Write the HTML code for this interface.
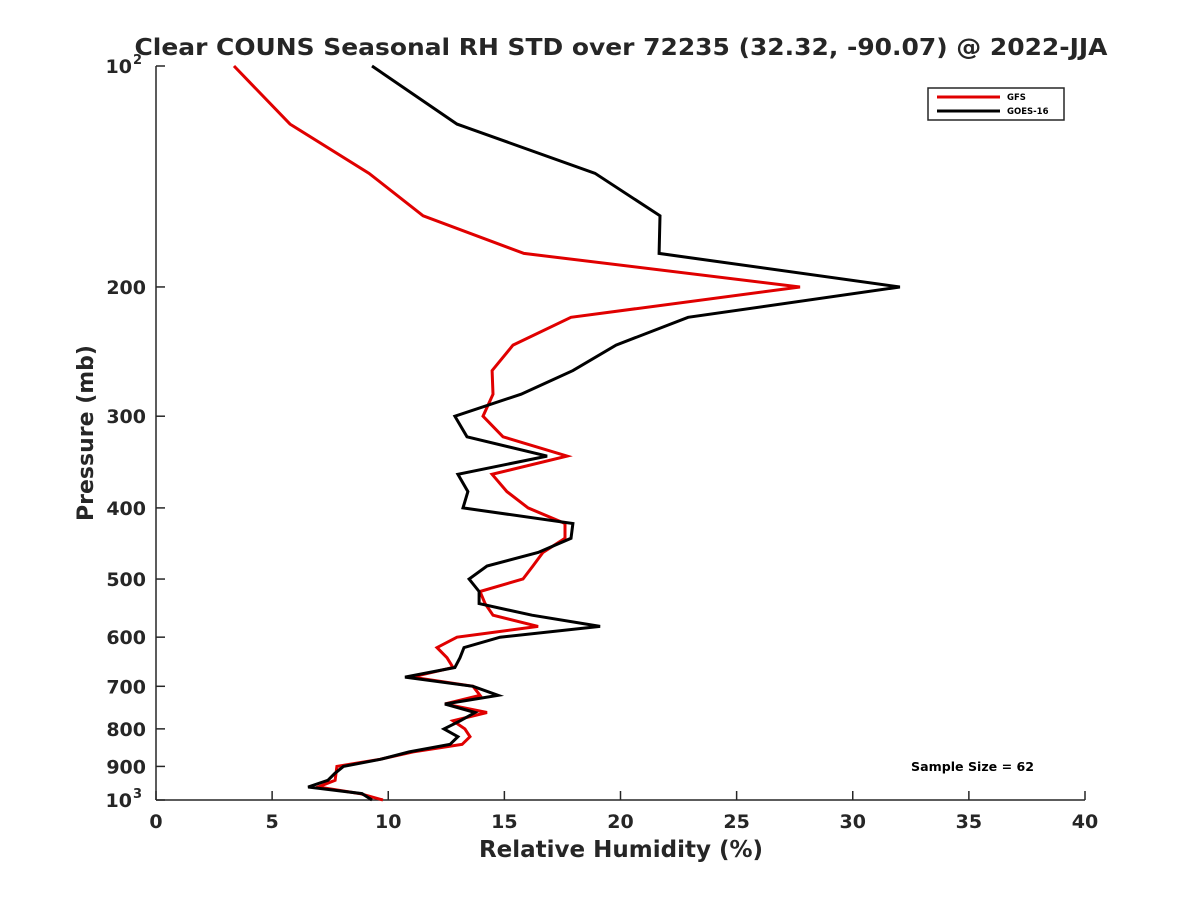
<!DOCTYPE html>
<html><head><meta charset="utf-8"><style>
body{margin:0;background:#fff}
svg{display:block;font-family:"DejaVu Sans","Liberation Sans",sans-serif;font-weight:bold}
</style></head><body>
<svg id="chart" width="1200" height="900">
<text x="621" y="55" text-anchor="middle" font-size="23" textLength="973" lengthAdjust="spacingAndGlyphs" fill="#262626">Clear COUNS Seasonal RH STD over 72235 (32.32, -90.07) @ 2022-JJA</text>
<g id="axes"></g>
<g id="series"></g>
<text x="621" y="857" text-anchor="middle" font-size="23" fill="#262626">Relative Humidity (%)</text>
<text transform="translate(93,433) rotate(-90)" text-anchor="middle" font-size="22" fill="#262626">Pressure (mb)</text>
<g>
<rect x="928" y="88" width="136" height="32" fill="#fff" stroke="#262626" stroke-width="1.5"/>
<g><line x1="937" y1="97" x2="1000" y2="97" stroke="#e00000" stroke-width="3"/><text x="1007" y="100" font-size="8.5" fill="#000">GFS</text></g>
<g><line x1="937" y1="111" x2="1000" y2="111" stroke="#000" stroke-width="3"/><text x="1007" y="114" font-size="8.5" fill="#000">GOES-16</text></g>
</g>
<text x="911" y="771" font-size="12.6" fill="#000">Sample Size = 62</text>
</svg>
<script>
const pressures=[100,120,140,160,180,200,220,240,260,280,300,320,340,360,380,400,420,440,460,480,500,520,540,560,580,600,620,640,660,680,700,720,740,760,780,800,820,840,860,880,900,920,940,960,980,1000];
const gfsValues=[3.36,5.77,9.17,11.5,15.84,27.73,17.87,15.37,14.47,14.51,14.08,14.94,17.7,14.47,15.11,16.02,17.61,17.61,16.66,16.23,15.8,13.95,14.17,14.51,16.45,12.96,12.1,12.53,12.79,11.02,13.65,13.95,12.44,14.25,12.79,13.3,13.52,13.18,11.07,9.64,7.79,7.75,7.71,6.98,8.78,9.77];
const goesValues=[9.3,12.96,18.9,21.7,21.66,32.03,22.91,19.81,17.95,15.72,12.87,13.39,16.84,13.0,13.43,13.22,17.95,17.87,16.45,14.25,13.48,13.91,13.91,16.19,19.12,14.81,13.26,13.09,12.87,10.72,13.65,14.73,12.44,13.74,13.1,12.4,13.0,12.66,10.9,9.66,8.07,7.7,7.4,6.55,8.87,9.3];
const xTicks=[0,5,10,15,20,25,30,35,40];
const yTicks=[100,200,300,400,500,600,700,800,900,1000];
const yTickLabels=["10|2","200","300","400","500","600","700","800","900","10|3"];
const X0=156,X1=1085,Y0=66,Y1=800;
const xs=v=>X0+(v-0)/40*(X1-X0);
const ys=p=>Y0+Math.log10(p/100)*(Y1-Y0);
const NS="http://www.w3.org/2000/svg";
const axes=document.getElementById('axes'),ser=document.getElementById('series');
function mk(tag,attrs,parent){const e=document.createElementNS(NS,tag);for(const k in attrs)e.setAttribute(k,attrs[k]);parent.appendChild(e);return e;}
const ya=mk('line',{x1:X0,y1:Y0,x2:X0,y2:Y1,stroke:'#262626','stroke-width':1.5},axes);


const xa=mk('line',{x1:X0,y1:Y1,x2:X1,y2:Y1,stroke:'#262626','stroke-width':1.5},axes);


xTicks.forEach(v=>{
 const t=mk('line',{x1:xs(v),y1:Y1,x2:xs(v),y2:Y1-9,stroke:'#262626','stroke-width':1.5},axes);
 
 
 const l=mk('text',{x:xs(v),y:Y1+28,'text-anchor':'middle','font-size':19,fill:'#262626'},axes);
 l.textContent=v;
 
 
});
yTicks.forEach((p,i)=>{
 const t=mk('line',{x1:X0,y1:ys(p),x2:X0+9,y2:ys(p),stroke:'#262626','stroke-width':1.5},axes);
 
 
 const lab=yTickLabels[i];
 if(lab.indexOf('|')>=0){
  const [b,e]=lab.split('|');
  const l=mk('text',{x:X0-24,y:ys(p)+7,'text-anchor':'end','font-size':19,fill:'#262626'},axes);
  l.textContent=b;
  
  
  const s=mk('text',{x:X0-14,y:ys(p)-2,'text-anchor':'end','font-size':13,fill:'#262626'},axes);
  s.textContent=e;
  
  
 } else {
  const l=mk('text',{x:X0-10,y:ys(p)+7,'text-anchor':'end','font-size':19,fill:'#262626'},axes);
  l.textContent=lab;
  
  
 }
});
function line(vals,color,name){
 const pts=vals.map((v,i)=>xs(v).toFixed(1)+','+ys(pressures[i]).toFixed(1)).join(' ');
 const pl=mk('polyline',{points:pts,fill:'none',stroke:color,'stroke-width':3,'stroke-linejoin':'miter'},ser);
 
 
}
line(gfsValues,'#e00000','gfs-line');
line(goesValues,'#000000','goes16-line');
</script>
</body></html>
